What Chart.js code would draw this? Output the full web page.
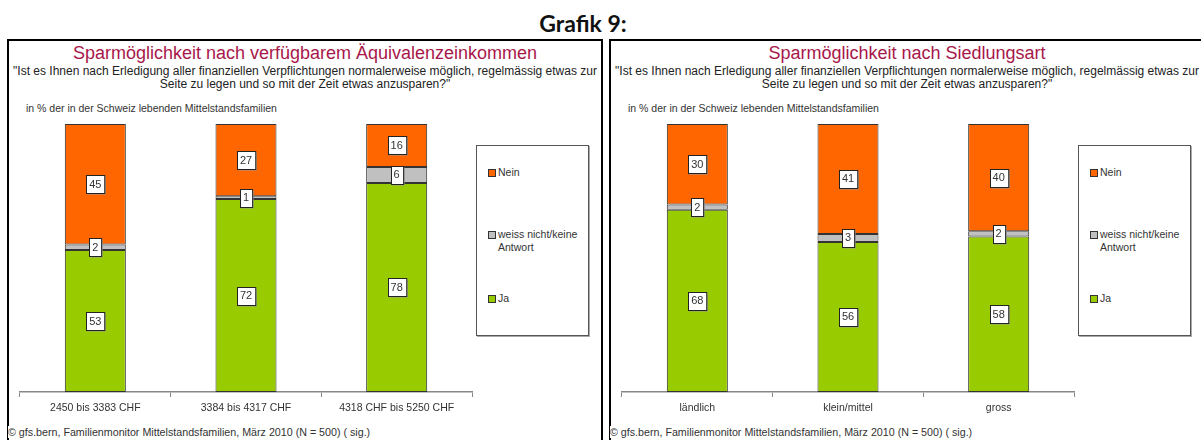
<!DOCTYPE html>
<html lang="de">
<head>
<meta charset="UTF-8">
<title>Grafik 9</title>
<script src="https://cdn.jsdelivr.net/npm/chart.js"></script>
<style>
    body { margin: 0; background: #fff; }
    #page { position: relative; width: 1201px; height: 440px; overflow: hidden; font-family: "Liberation Sans", Arial, sans-serif; color: #333; }
    .grafik { position: absolute; left: 0; width: 1166px; top: 9px; text-align: center; font-family: Lato, sans-serif; font-weight: bold; font-size: 23px; color: #111; }
    .panel { position: absolute; top: 39px; width: 592px; height: 420px; border: 2px solid #000; background: #fff; }
    .title { position: absolute; left: 0; width: 592px; top: 2px; text-align: center; font-size: 18px; line-height: 20px; color: #a8174a; }
    .sub { position: absolute; left: -10px; width: 612px; top: 24px; text-align: center; font-size: 12px; line-height: 13px; white-space: nowrap; color: #222; }
    .note { position: absolute; left: 17px; top: 61px; font-size: 10.5px; line-height: 12px; color: #333; }
    .panel canvas { position: absolute; left: 2px; top: 75px; }
    .legend { position: absolute; left: 467px; top: 104px; width: 111px; height: 189px; border: 1px solid #555; box-shadow: 1px 1px 0 #aaa; background: #fff; }
    .item { position: absolute; left: 11px; font-size: 10.5px; line-height: 13px; color: #333; }
    .item .mk { position: absolute; left: 0; top: 3px; width: 6px; height: 6px; border: 1px solid #333; }
    .item .tx { position: absolute; left: 10px; top: 0; white-space: nowrap; }
    .foot { position: absolute; left: -1px; top: 385px; font-size: 10.7px; line-height: 12px; background: #fff; color: #333; white-space: nowrap; }
</style>
</head>
<body>
<div id="page">
    <div class="grafik">Grafik 9:</div>
</div>

<script>
// Werte aus der Grafik (in %)
const seriesNames = ['Ja', 'weiss nicht/keine Antwort', 'Nein'];

const incomeCategories = ['2450 bis 3383 CHF', '3384 bis 4317 CHF', '4318 CHF bis 5250 CHF'];
const incomeJa = [53, 72, 78];
const incomeWeiss = [2, 1, 6];
const incomeNein = [45, 27, 16];

const siedlungCategories = ['ländlich', 'klein/mittel', 'gross'];
const siedlungJa = [68, 56, 58];
const siedlungWeiss = [2, 3, 2];
const siedlungNein = [30, 41, 40];

const seriesColors = ['#99cc00', '#c0c0c0', '#ff6600'];

const question = '"Ist es Ihnen nach Erledigung aller finanziellen Verpflichtungen normalerweise möglich, regelmässig etwas zur<br>Seite zu legen und so mit der Zeit etwas anzusparen?"';
const note = 'in % der in der Schweiz lebenden Mittelstandsfamilien';
const source = '© gfs.bern, Familienmonitor Mittelstandsfamilien, März 2010 (N = 500) ( sig.)';

// Wertelabels: weisse Kästchen in der Mitte jedes Segments
const boxLabels = {
    id: 'boxLabels',
    afterDatasetsDraw(chart) {
        const ctx = chart.ctx;
        ctx.save();
        ctx.font = '11px "Liberation Sans", Arial, sans-serif';
        ctx.textAlign = 'center';
        ctx.textBaseline = 'middle';
        chart.data.datasets.forEach(function(ds, i) {
            const meta = chart.getDatasetMeta(i);
            meta.data.forEach(function(bar, j) {
                const p = bar.getProps(['x', 'y', 'base'], true);
                const cy = (p.y + p.base) / 2;
                const txt = String(ds.data[j]);
                const w = ctx.measureText(txt).width + 6;
                const h = 18;
                const x0 = Math.round(p.x - w / 2) + 0.5;
                const y0 = Math.round(cy - h / 2) + 0.5;
                ctx.fillStyle = '#999';
                ctx.fillRect(x0 + 1, y0 + 1, w, h);
                ctx.fillStyle = '#fff';
                ctx.fillRect(x0, y0, w, h);
                ctx.strokeStyle = '#222';
                ctx.lineWidth = 1;
                ctx.strokeRect(x0, y0, w, h);
                ctx.fillStyle = '#333';
                ctx.fillText(txt, p.x, cy + 0.5);
            });
        });
        ctx.restore();
    }
};

function makePanel(left, titleText, categories, ja, weiss, nein) {
    const panel = document.createElement('div');
    panel.className = 'panel';
    panel.style.left = left + 'px';
    panel.innerHTML =
        '<div class="title">' + titleText + '</div>' +
        '<div class="sub">' + question + '</div>' +
        '<div class="note">' + note + '</div>' +
        '<canvas width="465" height="300"></canvas>' +
        '<div class="legend"></div>' +
        '<div class="foot">' + source + '</div>';
    document.getElementById('page').appendChild(panel);

    // Legende: Nein oben, Ja unten
    const legend = panel.querySelector('.legend');
    const tops = [146, 82, 20];
    for (let i = seriesNames.length - 1; i >= 0; i--) {
        const it = document.createElement('div');
        it.className = 'item';
        it.style.top = tops[i] + 'px';
        const label = seriesNames[i] === 'weiss nicht/keine Antwort' ? 'weiss nicht/keine<br>Antwort' : seriesNames[i];
        it.innerHTML = '<span class="mk" style="background:' + seriesColors[i] + '"></span><span class="tx">' + label + '</span>';
        legend.appendChild(it);
    }

    const values = [ja, weiss, nein];
    new Chart(panel.querySelector('canvas'), {
        type: 'bar',
        data: {
            labels: categories,
            datasets: values.map(function(v, i) {
                return {
                    label: seriesNames[i],
                    data: v,
                    backgroundColor: seriesColors[i],
                    borderColor: '#333',
                    borderWidth: 1,
                    borderSkipped: false,
                    categoryPercentage: 1,
                    barPercentage: 0.405
                };
            })
        },
        options: {
            responsive: false,
            animation: false,
            devicePixelRatio: 1,
            layout: { padding: { left: 9, right: 4, top: 8, bottom: 0 } },
            plugins: { legend: { display: false }, tooltip: { enabled: false } },
            scales: {
                x: {
                    stacked: true,
                    grid: { display: true, drawOnChartArea: false, drawTicks: true, tickLength: 5, color: '#888', offset: true },
                    border: { display: true, color: '#888', width: 1.5 },
                    ticks: { color: '#333', font: { family: '"Liberation Sans", Arial, sans-serif', size: 10.5 }, padding: 5, maxRotation: 0 },
                    afterFit: function(scale) { scale.height = 24; }
                },
                y: {
                    stacked: true,
                    display: false,
                    min: 0,
                    max: 100
                }
            }
        },
        plugins: [boxLabels]
    });
}

makePanel(7, 'Sparmöglichkeit nach verfügbarem Äquivalenzeinkommen', incomeCategories, incomeJa, incomeWeiss, incomeNein);
makePanel(609, 'Sparmöglichkeit nach Siedlungsart', siedlungCategories, siedlungJa, siedlungWeiss, siedlungNein);
</script>
</body>
</html>
